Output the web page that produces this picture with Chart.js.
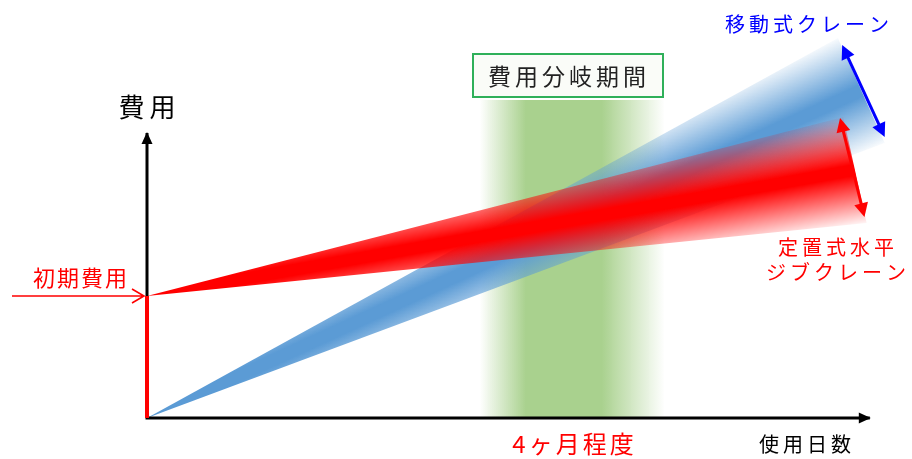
<!DOCTYPE html>
<html>
<head>
<meta charset="utf-8">
<script src="https://cdn.jsdelivr.net/npm/chart.js@4"></script>
<style>
html, body { margin: 0; padding: 0; background: #fff; }
#wrap { width: 912px; height: 459px; position: relative; }
</style>
</head>
<body>
<div id="wrap"><canvas id="myChart"></canvas></div>
<script>
// x = months of use, y = cost (arbitrary units)
const initialCostX = [0, 0];
const initialCostY = [0, 4.31];

// fixed horizontal jib crane: start, upper end, lower end of the range
const jibX = [0, 6.55, 6.77];
const jibY = [4.31, 10.64, 6.89];

// mobile crane
const mobileX = [0, 6.50, 6.94];
const mobileY = [0, 13.43, 9.72];

// cost break-even period (around 4 months)
const bandX = [3.13, 4.87];
const bandY = [11.24, 11.24];

// axis lines
const axisX = [0, 0, 6.8];
const axisY = [10.07, 0, 0];

// range arrows at the end of each wedge
const mobileRangeX = [6.54, 6.94];
const mobileRangeY = [13.18, 9.93];
const jibRangeX = [6.52, 6.75];
const jibRangeY = [10.60, 7.10];

const FONT = '"Noto Sans CJK JP", "Noto Sans", sans-serif';

function pts(xs, ys) {
    return xs.map((x, i) => ({x: x, y: ys[i]}));
}

// gradient across the wedge, centred on the line from its tip to the middle of the wide end
function wedgeFill(xs, ys, rgb, edge) {
    return function(context) {
        const chart = context.chart;
        const sx = chart.scales.x, sy = chart.scales.y;
        if (!chart.chartArea || !sx) return 'rgba(' + rgb + ',0.5)';
        const ox = sx.getPixelForValue(xs[0]), oy = sy.getPixelForValue(ys[0]);
        const x1 = sx.getPixelForValue(xs[1]), y1 = sy.getPixelForValue(ys[1]);
        const x2 = sx.getPixelForValue(xs[2]), y2 = sy.getPixelForValue(ys[2]);
        const mx = (x1 + x2) / 2, my = (y1 + y2) / 2;
        const len = Math.hypot(mx - ox, my - oy);
        const nx = -(my - oy) / len, ny = (mx - ox) / len;
        const h = Math.max(Math.abs((x1 - mx) * nx + (y1 - my) * ny), Math.abs((x2 - mx) * nx + (y2 - my) * ny));
        const g = chart.ctx.createLinearGradient(mx + nx * h, my + ny * h, mx - nx * h, my - ny * h);
        g.addColorStop(0, 'rgba(' + rgb + ',' + edge + ')');
        g.addColorStop(0.45, 'rgba(' + rgb + ',1)');
        g.addColorStop(0.55, 'rgba(' + rgb + ',1)');
        g.addColorStop(1, 'rgba(' + rgb + ',' + edge + ')');
        return g;
    };
}

function bandFill(context) {
    const chart = context.chart;
    const sx = chart.scales.x;
    if (!chart.chartArea || !sx) return 'rgba(169,209,142,0.6)';
    const g = chart.ctx.createLinearGradient(sx.getPixelForValue(bandX[0]), 0, sx.getPixelForValue(bandX[1]), 0);
    g.addColorStop(0, 'rgba(169,209,142,0)');
    g.addColorStop(0.25, 'rgba(169,209,142,1)');
    g.addColorStop(0.66, 'rgba(169,209,142,1)');
    g.addColorStop(1, 'rgba(169,209,142,0)');
    return g;
}

function arrowHead(ctx, x1, y1, x2, y2, len, half) {
    const a = Math.atan2(y2 - y1, x2 - x1);
    ctx.beginPath();
    ctx.moveTo(x2, y2);
    ctx.lineTo(x2 - len * Math.cos(a) + half * Math.sin(a), y2 - len * Math.sin(a) - half * Math.cos(a));
    ctx.lineTo(x2 - len * Math.cos(a) - half * Math.sin(a), y2 - len * Math.sin(a) + half * Math.cos(a));
    ctx.closePath();
    ctx.fill();
}

function spacedText(ctx, text, cx, cy, sp) {
    const chars = Array.from(text);
    const ws = chars.map(c => ctx.measureText(c).width);
    const total = ws.reduce((a, b) => a + b, 0) + sp * (chars.length - 1);
    let x = cx - total / 2;
    ctx.textAlign = 'left';
    ctx.textBaseline = 'middle';
    chars.forEach((c, i) => {
        ctx.fillText(c, x, cy);
        x += ws[i] + sp;
    });
}

const decor = {
    id: 'decor',
    afterDatasetsDraw(chart) {
        const ctx = chart.ctx;
        const sx = chart.scales.x, sy = chart.scales.y;
        const px = v => sx.getPixelForValue(v);
        const py = v => sy.getPixelForValue(v);
        ctx.save();

        // axis arrow heads
        ctx.fillStyle = '#000';
        arrowHead(ctx, px(axisX[1]), py(axisY[1]), px(axisX[0]), py(axisY[0]) - 1, 12, 5.5);
        arrowHead(ctx, px(axisX[1]), py(axisY[1]), px(axisX[2]) + 1, py(axisY[2]), 12, 5.5);

        // range arrows
        function dbl(xs, ys, color) {
            const x1 = px(xs[0]), y1 = py(ys[0]), x2 = px(xs[1]), y2 = py(ys[1]);
            const a = Math.atan2(y2 - y1, x2 - x1);
            ctx.strokeStyle = color;
            ctx.fillStyle = color;
            ctx.lineWidth = 3;
            ctx.beginPath();
            ctx.moveTo(x1 + 10 * Math.cos(a), y1 + 10 * Math.sin(a));
            ctx.lineTo(x2 - 10 * Math.cos(a), y2 - 10 * Math.sin(a));
            ctx.stroke();
            arrowHead(ctx, x1, y1, x2, y2, 14, 7);
            arrowHead(ctx, x2, y2, x1, y1, 14, 7);
        }
        dbl(mobileRangeX, mobileRangeY, '#0000ff');
        dbl(jibRangeX, jibRangeY, '#ff0000');

        // initial cost arrow
        const ix = px(0) - 3, iy = py(initialCostY[1]);
        ctx.strokeStyle = '#ff0000';
        ctx.lineWidth = 1.6;
        ctx.beginPath();
        ctx.moveTo(12, iy);
        ctx.lineTo(ix, iy);
        ctx.moveTo(ix - 12, iy - 7);
        ctx.lineTo(ix, iy);
        ctx.lineTo(ix - 12, iy + 7);
        ctx.stroke();

        // period box
        ctx.fillStyle = 'rgba(250,252,248,1)';
        ctx.fillRect(473, 54, 190, 43);
        ctx.strokeStyle = '#2fb05a';
        ctx.lineWidth = 2;
        ctx.strokeRect(473, 54, 190, 43);
        ctx.fillStyle = '#222';
        ctx.font = '23px ' + FONT;
        spacedText(ctx, '費用分岐期間', 567, 76, 4);

        // texts
        ctx.fillStyle = '#000';
        ctx.font = '26px ' + FONT;
        spacedText(ctx, '費用', 147, 107, 5);
        ctx.font = '20px ' + FONT;
        spacedText(ctx, '使用日数', 805, 444, 4);

        ctx.fillStyle = '#ff0000';
        ctx.font = '22px ' + FONT;
        spacedText(ctx, '初期費用', 80, 278, 2);
        ctx.font = '24px ' + FONT;
        spacedText(ctx, '4ヶ月程度', 573, 444, 3);
        ctx.font = '20px ' + FONT;
        spacedText(ctx, '定置式水平', 836, 247, 4);
        spacedText(ctx, 'ジブクレーン', 836, 272, 4);

        ctx.fillStyle = '#0000ff';
        spacedText(ctx, '移動式クレーン', 807, 24, 4);

        ctx.restore();
    }
};

const config = {
    type: 'scatter',
    data: {
        datasets: [{
            label: 'initial',
            data: pts(initialCostX, initialCostY),
            showLine: true,
            borderColor: '#ff0000',
            borderWidth: 4,
            pointRadius: 0,
            order: 0
        }, {
            label: 'axes',
            data: pts(axisX, axisY),
            showLine: true,
            borderColor: '#000',
            borderWidth: 3,
            pointRadius: 0,
            order: 1
        }, {
            label: '定置式水平ジブクレーン',
            data: pts(jibX, jibY),
            showLine: true,
            fill: 'shape',
            backgroundColor: wedgeFill(jibX, jibY, '255,0,0', 0.04),
            borderColor: 'rgba(0,0,0,0)',
            borderWidth: 0,
            pointRadius: 0,
            order: 2
        }, {
            label: '移動式クレーン',
            data: pts(mobileX, mobileY),
            showLine: true,
            fill: 'shape',
            backgroundColor: wedgeFill(mobileX, mobileY, '91,155,213', 0.04),
            borderColor: 'rgba(0,0,0,0)',
            borderWidth: 0,
            pointRadius: 0,
            order: 3
        }, {
            label: '費用分岐期間',
            data: pts(bandX, bandY),
            showLine: true,
            fill: 'origin',
            backgroundColor: bandFill,
            borderColor: 'rgba(0,0,0,0)',
            borderWidth: 0,
            pointRadius: 0,
            order: 4
        }]
    },
    options: {
        responsive: true,
        maintainAspectRatio: false,
        animation: false,
        layout: { padding: 0 },
        plugins: {
            legend: { display: false },
            tooltip: { enabled: false }
        },
        scales: {
            x: { type: 'linear', display: false, min: -1.383, max: 7.197 },
            y: { type: 'linear', display: false, min: -1.449, max: 14.77 }
        }
    },
    plugins: [decor]
};

const myChart = new Chart(document.getElementById('myChart'), config);
</script>
</body>
</html>
